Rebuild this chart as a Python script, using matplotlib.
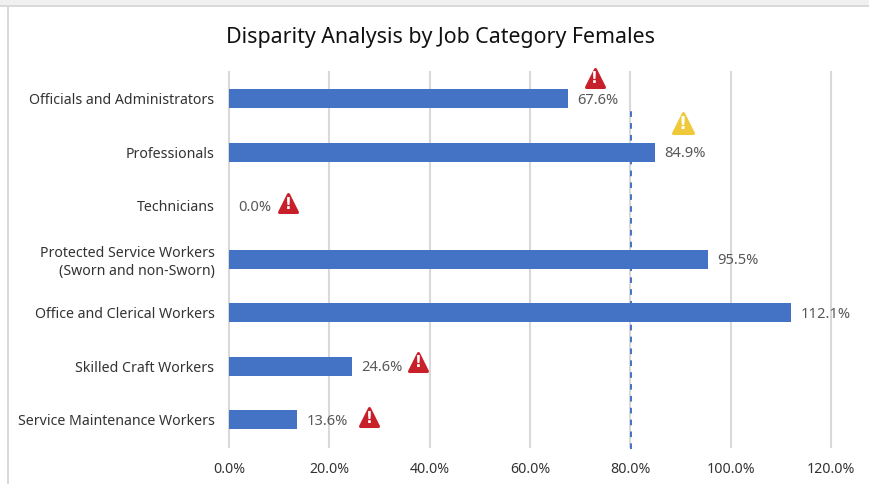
# Disparity analysis bar chart, females by job category
import matplotlib
matplotlib.use('Agg')
import matplotlib.pyplot as plt
from matplotlib.markers import MarkerStyle
from matplotlib.patches import Rectangle
from matplotlib.transforms import ScaledTranslation

plt.rcParams['font.family'] = ['Noto Sans', 'DejaVu Sans']

categories = ['Officials and Administrators', 'Professionals', 'Technicians',
              'Protected Service Workers\n(Sworn and non-Sworn)',
              'Office and Clerical Workers', 'Skilled Craft Workers',
              'Service Maintenance Workers']
values = [67.6, 84.9, 0.0, 95.5, 112.1, 24.6, 13.6]
x_ticks = [0, 20, 40, 60, 80, 100, 120]
threshold = 80.2

# warning icons: x in percent, y in category rows, colour
icon_x = [72.9, 90.5, 11.8, 37.7, 27.9]
icon_y = [-0.39, 0.45, 1.95, 4.92, 5.95]
icon_colors = ['#c8202a', '#f0c93a', '#c8202a', '#c8202a', '#c8202a']

W, H = 869, 485
fig = plt.figure(figsize=(W / 100, H / 100), dpi=100)
ax = fig.add_axes([229 / W, 1 - 447.5 / H, 602 / W, 374.5 / H])

ax.barh(range(len(values)), values, height=0.35, color='#4472c4', zorder=3)
ax.set_xlim(0, 120)
ax.set_ylim(len(values) - 0.5, -0.5)

ax.set_xticks(x_ticks)
ax.set_xticklabels([f'{t:.1f}%' for t in x_ticks], fontsize=10.2, color='#333333')
ax.set_yticks(range(len(categories)))
ax.set_yticklabels(categories, fontsize=10.2, color='#333333', linespacing=1.3)
ax.tick_params(length=0)
ax.tick_params(axis='x', pad=10.5)
ax.tick_params(axis='y', pad=10.5)
# category labels sit a pixel above the bar centres
nudge = ScaledTranslation(0, 1.2 / 100, fig.dpi_scale_trans)
for lab in ax.get_yticklabels():
    lab.set_transform(lab.get_transform() + nudge)
ax.grid(axis='x', color='#d9d9d9', linewidth=1.5, zorder=0)
for line in ax.get_xgridlines():
    line.set_clip_on(False)
for s in ax.spines.values():
    s.set_visible(False)

# dashed target line runs a little past the plot at the bottom
ax.plot([threshold, threshold], [-0.007, 0.9], transform=ax.get_xaxis_transform(),
        color='#4472c4', linestyle=(0, (2.9, 3.2)), linewidth=1.4, clip_on=False, zorder=2)

for i, v in enumerate(values):
    ax.annotate(f'{v:.1f}%', (v, i), xytext=(6.5, -0.5), textcoords='offset points',
                va='center', ha='left', fontsize=10.6, color='#595959', zorder=5)

tri = MarkerStyle('^', joinstyle='round')
for x, y, col in zip(icon_x, icon_y, icon_colors):
    size = 15 if col == '#f0c93a' else 13
    ax.plot([x], [y], marker=tri, markersize=size, color=col, markeredgecolor=col,
            markeredgewidth=2.2, clip_on=False, zorder=6)
    ax.text(x, y, '!', ha='center', va='center', fontsize=size - 2, fontweight='bold',
            family='DejaVu Sans', color='white', zorder=7)

fig.text(441 / W, 1 - 37 / H, 'Disparity Analysis by Job Category Females',
         ha='center', va='center', fontsize=15.4, color='#111111')

# window edge at the top and left of the screenshot
fig.add_artist(Rectangle((0, 1 - 6 / H), 1, 6 / H, transform=fig.transFigure,
                         facecolor='#f0f0f0', edgecolor='none'))
fig.add_artist(Rectangle((0, 1 - 7.5 / H), 1, 1.5 / H, transform=fig.transFigure,
                         facecolor='#d9d9d9', edgecolor='none'))
fig.add_artist(Rectangle((7.5 / W, 0), 1.2 / W, 1 - 7 / H, transform=fig.transFigure,
                         facecolor='#d9d9d9', edgecolor='none'))

fig.savefig('out.png', dpi=100)
